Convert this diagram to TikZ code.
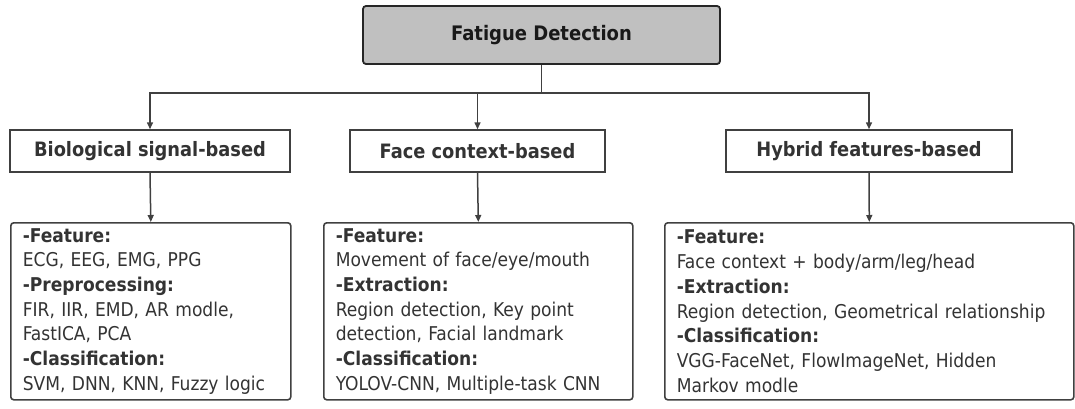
\documentclass[tikz,border=0pt]{standalone}
\usepackage{fontspec}
\setmainfont{DejaVu Sans Condensed}
\usetikzlibrary{arrows.meta,positioning,calc}
\definecolor{linegray}{HTML}{404040}
\definecolor{txtgray}{HTML}{333333}
\definecolor{topfill}{HTML}{C0C0C0}

\begin{document}
\begin{tikzpicture}[x=1pt,y=-1pt,
  every node/.style={font=\fontsize{19}{24.7}\selectfont,text=txtgray},
  topbox/.style={draw=black!85,fill=topfill,line width=1.8pt,rounded corners=3pt,minimum width=357pt,minimum height=58pt,font=\fontsize{20}{22}\selectfont\bfseries,text=black!90},
  box/.style={draw=linegray,line width=1.5pt,minimum height=42pt,font=\fontsize{19.8}{22}\selectfont\bfseries},
  detail/.style={draw=linegray,line width=1.6pt,rounded corners=3pt,align=left,anchor=north west,inner sep=0pt,inner xsep=12pt,minimum height=177pt},
  ar/.style={-{Triangle[length=7pt,width=6pt]},draw=linegray,line width=1.5pt}]
\useasboundingbox (0,0) rectangle (1075,408);
\node[topbox] (top) at (541.5,35) {Fatigue Detection};
\node[box,minimum width=280pt] (bio) at (150,151) {Biological signal-based};
\node[box,minimum width=255pt] (face) at (477.5,151) {Face context-based};
\node[box,minimum width=286pt] (hyb) at (869,151) {Hybrid features-based};
\node[detail,text width=256pt] (biod) at (10,222) {\textbf{-Feature:}\\ECG, EEG, EMG, PPG\\\textbf{-Preprocessing:}\\FIR, IIR, EMD, AR modle,\\FastICA, PCA\\\textbf{-Classification:}\\SVM, DNN, KNN, Fuzzy logic};
\node[detail,text width=285pt] (faced) at (323,222) {\textbf{-Feature:}\\Movement of face/eye/mouth\\\textbf{-Extraction:}\\Region detection, Key point\\detection, Facial landmark\\\textbf{-Classification:}\\YOLOV-CNN, Multiple-task CNN};
\node[detail,text width=385pt] (hybd) at (664,222) {\textbf{-Feature:}\\Face context + body/arm/leg/head\\\textbf{-Extraction:}\\Region detection, Geometrical relationship\\\textbf{-Classification:}\\VGG-FaceNet, FlowImageNet, Hidden\\Markov modle};
\foreach \x in {bio,face,hyb} \draw[ar] (top.south) -- ++(0,28) -| (\x.north);
\draw[ar] (bio.south) -- (biod.north);
\draw[ar] (face.south) -- (faced.north);
\draw[ar] (hyb.south) -- (hybd.north);
\end{tikzpicture}
\end{document}
